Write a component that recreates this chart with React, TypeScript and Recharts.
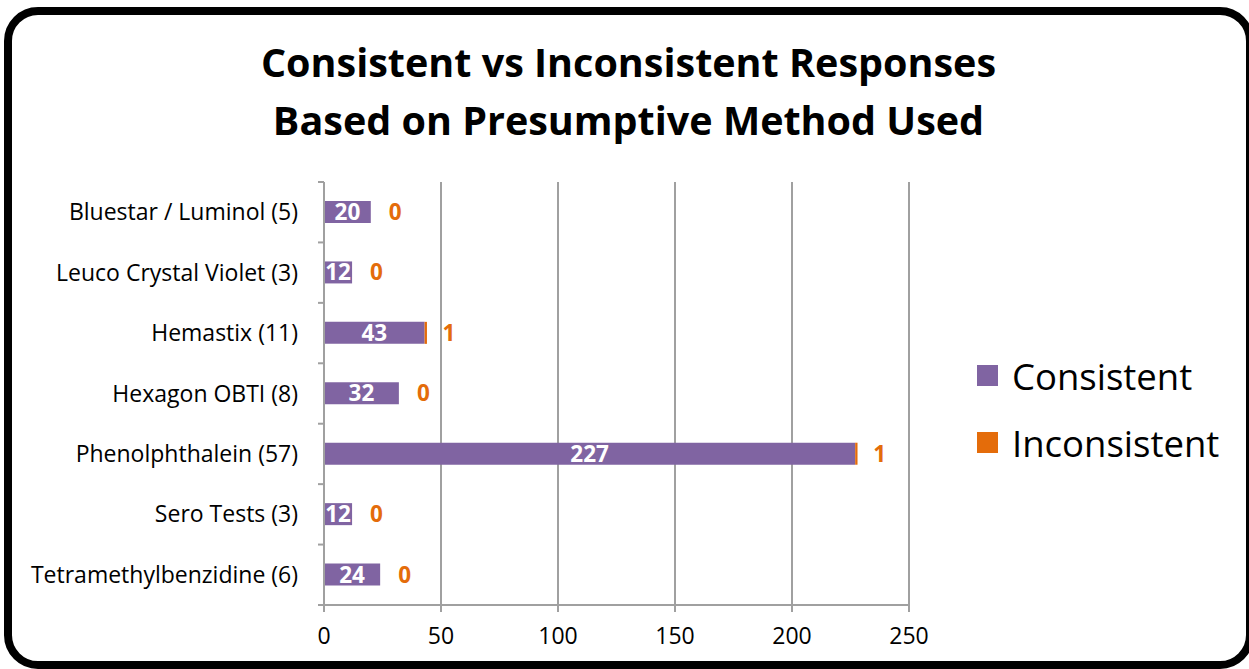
import React from 'react';
import { BarChart, Bar, XAxis, YAxis, CartesianGrid, Legend, LabelList } from 'recharts';

const categories = [
  'Bluestar / Luminol (5)',
  'Leuco Crystal Violet (3)',
  'Hemastix (11)',
  'Hexagon OBTI (8)',
  'Phenolphthalein (57)',
  'Sero Tests (3)',
  'Tetramethylbenzidine (6)',
];
const consistent = [20, 12, 43, 32, 227, 12, 24];
const inconsistent = [0, 0, 1, 0, 1, 0, 0];
const xTicks = [0, 50, 100, 150, 200, 250];

const PURPLE = '#8064A2';
const ORANGE = '#E46C0A';
const GRID = '#A0A0A0';
const FONT = '"Open Sans", sans-serif';

const W = 1249;
const H = 669;
const PLOT_TOP = 182;
const PLOT_BOTTOM = 605;
const bandHalf = (PLOT_BOTTOM - PLOT_TOP) / categories.length / 2;

const data = categories.map((name, i) => ({
  name,
  consistent: consistent[i],
  inconsistent: inconsistent[i],
}));

// category ticks: label plus Excel-style boundary tick marks
function CategoryTick(props: any) {
  const { x, y, payload, index } = props;
  const last = index === categories.length - 1;
  return (
    <g>
      <line x1={x + 2} x2={x + 8} y1={y - bandHalf} y2={y - bandHalf} stroke={GRID} strokeWidth={2} />
      {last && <line x1={x + 2} x2={x + 8} y1={y + bandHalf} y2={y + bandHalf} stroke={GRID} strokeWidth={2} />}
      <text x={x - 18} y={y} dy={8} textAnchor="end" fontSize={23} fill="#000" fontFamily={FONT}>
        {payload.value}
      </text>
    </g>
  );
}

function LegendContent() {
  const items = [
    { label: 'Consistent', color: PURPLE },
    { label: 'Inconsistent', color: ORANGE },
  ];
  return (
    <div style={{ fontFamily: FONT }}>
      {items.map((it) => (
        <div key={it.label} style={{ display: 'flex', alignItems: 'center', height: 67 }}>
          <span style={{ width: 21, height: 21, background: it.color, display: 'inline-block', marginRight: 14 }} />
          <span style={{ fontSize: 36.5, color: '#000' }}>{it.label}</span>
        </div>
      ))}
    </div>
  );
}

export default function App() {
  return (
    <div style={{ position: 'absolute', left: 0, top: 0, width: W, height: H, background: '#fff' }}>
      <div
        style={{
          position: 'absolute',
          left: 4,
          top: 7,
          width: 1250,
          height: 662,
          boxSizing: 'border-box',
          border: '8px solid #000',
          borderRadius: 34,
        }}
      />
      <div
        style={{
          position: 'absolute',
          left: 0,
          top: 33,
          width: 1257,
          textAlign: 'center',
          fontFamily: FONT,
          fontWeight: 700,
          fontSize: 39.5,
          lineHeight: '58px',
          color: '#000',
        }}
      >
        Consistent vs Inconsistent Responses
        <br />
        Based on Presumptive Method Used
      </div>
      <div style={{ position: 'absolute', left: 0, top: 0 }}>
        <BarChart
          width={W}
          height={H}
          data={data}
          layout="vertical"
          barSize={22}
          margin={{ top: PLOT_TOP, right: W - 909, bottom: H - PLOT_BOTTOM - 30, left: 0 }}
        >
          <CartesianGrid horizontal={false} stroke={GRID} strokeWidth={2} />
          <XAxis
            type="number"
            domain={[0, 250]}
            ticks={xTicks}
            height={30}
            stroke={GRID}
            strokeWidth={2}
            tickSize={7}
            tick={{ fill: '#000', fontSize: 23, fontFamily: FONT, dy: 14 }}
          />
          <YAxis
            type="category"
            dataKey="name"
            width={324}
            stroke={GRID}
            strokeWidth={2}
            tickLine={false}
            tick={<CategoryTick />}
          />
          <Legend
            layout="vertical"
            align="center"
            verticalAlign="middle"
            content={<LegendContent />}
            wrapperStyle={{ left: 977, top: 342, width: 270 }}
          />
          <Bar dataKey="consistent" name="Consistent" stackId="a" fill={PURPLE} isAnimationActive={false}>
            <LabelList dataKey="consistent" position="center" fill="#fff" fontSize={22.5} fontWeight={700} fontFamily={FONT} />
            {/* orange value labels sit just past the stack end (zero bars draw no label of their own) */}
            <LabelList dataKey="inconsistent" position="right" offset={18} fill={ORANGE} fontSize={22.5} fontWeight={700} fontFamily={FONT} />
          </Bar>
          <Bar dataKey="inconsistent" name="Inconsistent" stackId="a" fill={ORANGE} isAnimationActive={false} />
        </BarChart>
      </div>
    </div>
  );
}
